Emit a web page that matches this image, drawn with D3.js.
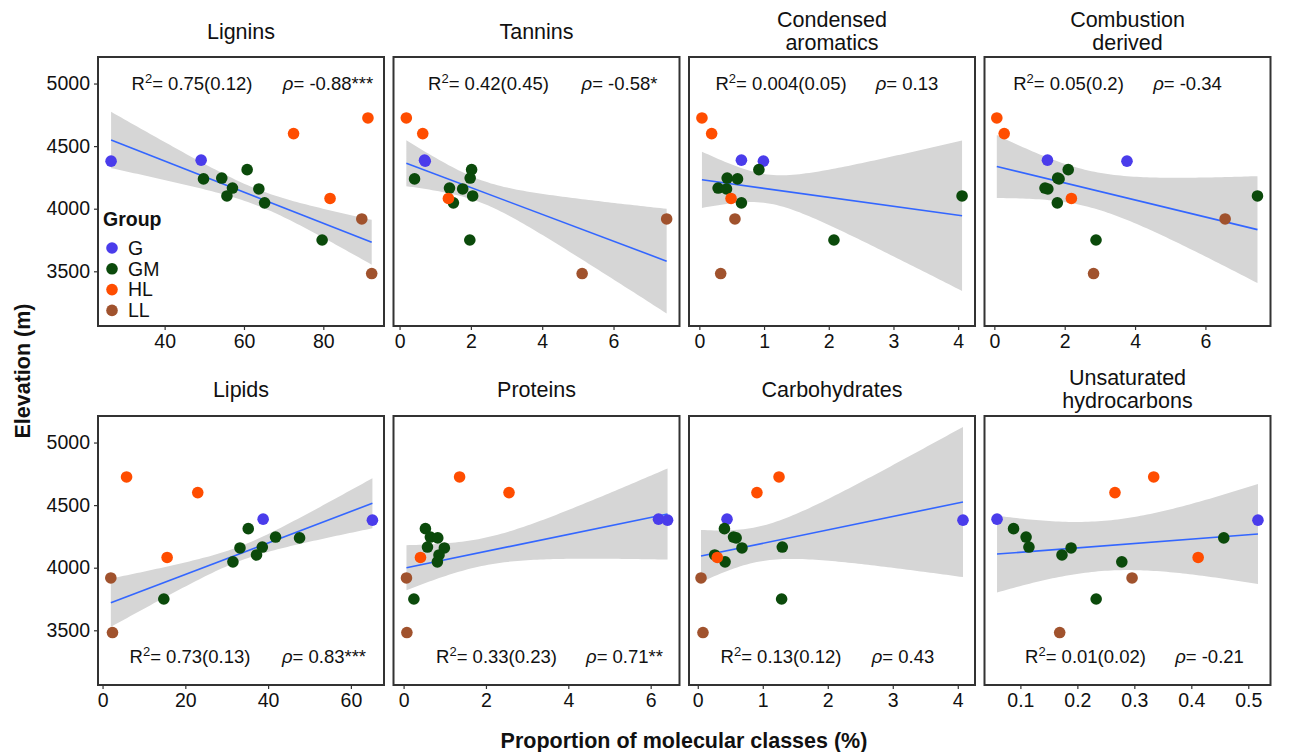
<!DOCTYPE html>
<html><head><meta charset="utf-8">
<script src="https://cdn.jsdelivr.net/npm/d3@7/dist/d3.min.js"></script>
<style>body{margin:0;background:#fff}svg{display:block;font-family:"Liberation Sans",Arial,sans-serif}</style>
</head><body><svg id="c" width="1291" height="752"></svg>
<script>
// ---------- data ----------
const groups = ["G","GM","HL","LL"];
const groupColors = ["#4A3CEB","#0B4A0B","#FF4D00","#A0522D"];
const siteGroup = ["G","G","GM","GM","GM","GM","GM","GM","GM","GM","HL","HL","HL","LL","LL"];
const elevation = [4388,4380,4312,4245,4238,4165,4158,4102,4047,3750,4725,4600,4082,3918,3482];
const panelNames = ["Lignins","Tannins","Condensed aromatics","Combustion derived","Lipids","Proteins","Carbohydrates","Unsaturated hydrocarbons"];
const titleLines = [["Lignins"],["Tannins"],["Condensed","aromatics"],["Combustion","derived"],["Lipids"],["Proteins"],["Carbohydrates"],["Unsaturated","hydrocarbons"]];
const lignins      = [49.2,26.5,60.8,54.4,49.8,57.1,63.75,55.7,65.2,79.7,91.25,72.5,81.7,89.7,92.2];
const tannins      = [0.70,0.72,2.02,1.98,0.42,1.40,1.77,2.05,1.51,1.97,0.19,0.65,1.37,7.49,5.12];
const condensed    = [0.65,0.99,0.92,0.43,0.59,0.29,0.42,4.06,0.65,2.08,0.04,0.19,0.49,0.55,0.33];
const combustion   = [1.51,3.77,2.10,1.80,1.84,1.44,1.52,7.48,1.79,2.89,0.07,0.28,2.19,6.56,2.82];
const lipids       = [38.8,65.2,35.2,41.8,47.6,38.6,33.2,37.2,31.5,14.8,5.8,23.0,15.6,2.0,2.4];
const proteins     = [6.19,6.41,0.53,0.65,0.83,0.58,0.99,0.86,0.82,0.25,1.36,2.56,0.41,0.07,0.08];
const carbohydrates= [0.45,4.08,0.41,0.55,0.59,1.30,0.68,0.26,0.42,1.29,1.25,0.91,0.30,0.05,0.08];
const unsaturated  = [0.059,0.517,0.088,0.110,0.457,0.115,0.189,0.173,0.278,0.233,0.334,0.266,0.412,0.296,0.169];
const panelValues = [lignins,tannins,condensed,combustion,lipids,proteins,carbohydrates,unsaturated];
// fitted line: elevation at left / right end of the data range
const fitStart = [4549,4363,4231,4337,3720,4000,4093,4109];
const fitEnd   = [3732,3581,3944,3833,4515,4429,4525,4269];
// confidence band half-width (m): at left end, at right end, minimum
const bandLeft  = [225,183,225,252,193,180,209,307];
const bandRight = [179,418,601,427,200,364,600,400];
const bandMin   = [65,90,115,145,58,110,140,200];
const xDomains = [[23.2,95.3],[-0.17,7.85],[-0.16,4.26],[-0.28,7.85],[-1.1,68.0],[-0.245,6.7],[-0.135,4.265],[0.037,0.539]];
const xTicks = [[40,60,80],[0,2,4,6],[0,1,2,3,4],[0,2,4,6],[0,20,40,60],[0,2,4,6],[0,1,2,3,4],[0.1,0.2,0.3,0.4,0.5]];
const yTicks = [3500,4000,4500,5000];
const yDomain = [3063,5212];
const r2Text  = ["0.75(0.12)","0.42(0.45)","0.004(0.05)","0.05(0.2)","0.73(0.13)","0.33(0.23)","0.13(0.12)","0.01(0.02)"];
const rhoText = ["-0.88***","-0.58*","0.13","-0.34","0.83***","0.71**","0.43","-0.21"];

// ---------- layout ----------
const lefts = [98,393.5,689,984.5], pw = 286;
const tops = [57,416], ph = 269;
const r2Pos  = [94,95,92,84,92,103,92,101];
const rhoPos = [230,226,218,203,226,231,214,225];
const annY = [84,657];

const svg = d3.select("#c");
const color = d3.scaleOrdinal(groups, groupColors);
const ink = "#111";

panelNames.forEach((name,i)=>{
  const row = Math.floor(i/4), col = i%4;
  const x0 = lefts[col], y0 = tops[row];
  const g = svg.append("g").attr("transform",`translate(${x0},${y0})`);
  const x = d3.scaleLinear().domain(xDomains[i]).range([0,pw]);
  const y = d3.scaleLinear().domain(yDomain).range([ph,0]);
  const vals = panelValues[i];
  const [xa,xb] = d3.extent(vals);
  // band
  const hL = bandLeft[i], hR = bandRight[i], hm = bandMin[i];
  const a = Math.sqrt(hL*hL-hm*hm), b = Math.sqrt(hR*hR-hm*hm);
  const xc = xa + a*(xb-xa)/(a+b), k = (a+b)/(xb-xa);
  const fit = v => fitStart[i] + (fitEnd[i]-fitStart[i])*(v-xa)/(xb-xa);
  const half = v => Math.sqrt(hm*hm + Math.pow(k*(v-xc),2));
  const xs = d3.range(0,81).map(j=>xa+(xb-xa)*j/80);
  g.append("path").datum(xs)
    .attr("d", d3.area().x(v=>x(v)).y0(v=>y(fit(v)-half(v))).y1(v=>y(fit(v)+half(v))))
    .attr("fill","#D6D6D6");
  g.append("line").attr("x1",x(xa)).attr("x2",x(xb)).attr("y1",y(fit(xa))).attr("y2",y(fit(xb)))
    .attr("stroke","#3366FF").attr("stroke-width",1.6);
  // points
  g.selectAll("circle.p").data(vals.map((v,j)=>({v,e:elevation[j],grp:siteGroup[j]})))
    .join("circle").attr("class","p").attr("cx",d=>x(d.v)).attr("cy",d=>y(d.e)).attr("r",5.8)
    .attr("fill",d=>color(d.grp));
  // border
  g.append("rect").attr("width",pw).attr("height",ph).attr("fill","none").attr("stroke","#333").attr("stroke-width",2);
  // x axis
  const xa_ = g.append("g").attr("transform",`translate(0,${ph})`)
    .call(d3.axisBottom(x).tickValues(xTicks[i]).tickSize(4).tickPadding(4).tickFormat(d3.format("")));
  xa_.select(".domain").remove();
  xa_.selectAll("line").attr("stroke","#333").attr("stroke-width",1.2);
  xa_.selectAll("text").attr("font-size",19.5).attr("fill",ink).attr("font-family","Liberation Sans, Arial, sans-serif");
  if(col===0){
    const ya = g.append("g").call(d3.axisLeft(y).tickValues(yTicks).tickSize(4).tickPadding(4).tickFormat(d3.format("d")));
    ya.select(".domain").remove();
    ya.selectAll("line").attr("stroke","#333").attr("stroke-width",1.2);
    ya.selectAll("text").attr("font-size",19.5).attr("fill",ink).attr("font-family","Liberation Sans, Arial, sans-serif");
  }
  // strip title
  const tl = titleLines[i];
  const tcy = row===0 ? 31 : 389;
  tl.forEach((t,j)=>{
    svg.append("text").attr("x",x0+pw/2).attr("y",tcy + (j-(tl.length-1)/2)*23.5).attr("dy","0.35em")
      .attr("text-anchor","middle").attr("font-size",21.5).attr("fill",ink).text(t);
  });
  // annotations
  const t1 = g.append("text").attr("x",r2Pos[i]).attr("y",annY[row]-y0).attr("dy","0.35em")
    .attr("text-anchor","middle").attr("font-size",18.5).attr("fill",ink);
  t1.append("tspan").text("R");
  t1.append("tspan").attr("font-size",13).attr("dy",-7).text("2");
  t1.append("tspan").attr("dy",7).text("= "+r2Text[i]);
  const t2 = g.append("text").attr("x",rhoPos[i]).attr("y",annY[row]-y0).attr("dy","0.35em")
    .attr("text-anchor","middle").attr("font-size",18.5).attr("fill",ink);
  t2.append("tspan").attr("font-style","italic").text("ρ");
  t2.append("tspan").text("= "+rhoText[i]);
});

// legend
const lg = svg.append("g");
lg.append("text").attr("x",103).attr("y",219).attr("dy","0.35em").attr("font-size",19.5).attr("font-weight","bold").attr("fill",ink).text("Group");
groups.forEach((gname,j)=>{
  const cy = 248 + j*20.8;
  lg.append("circle").attr("cx",112).attr("cy",cy).attr("r",5.8).attr("fill",color(gname));
  lg.append("text").attr("x",128).attr("y",cy).attr("dy","0.35em").attr("font-size",19.5).attr("fill",ink).text(gname);
});

// axis titles
svg.append("text").attr("transform","translate(22,371) rotate(-90)").attr("text-anchor","middle").attr("dy","0.35em")
  .attr("font-size",21.5).attr("font-weight","bold").attr("fill",ink).text("Elevation (m)");
svg.append("text").attr("x",684).attr("y",740).attr("text-anchor","middle").attr("dy","0.35em")
  .attr("font-size",21.5).attr("font-weight","bold").attr("fill",ink).text("Proportion of molecular classes (%)");
</script></body></html>
